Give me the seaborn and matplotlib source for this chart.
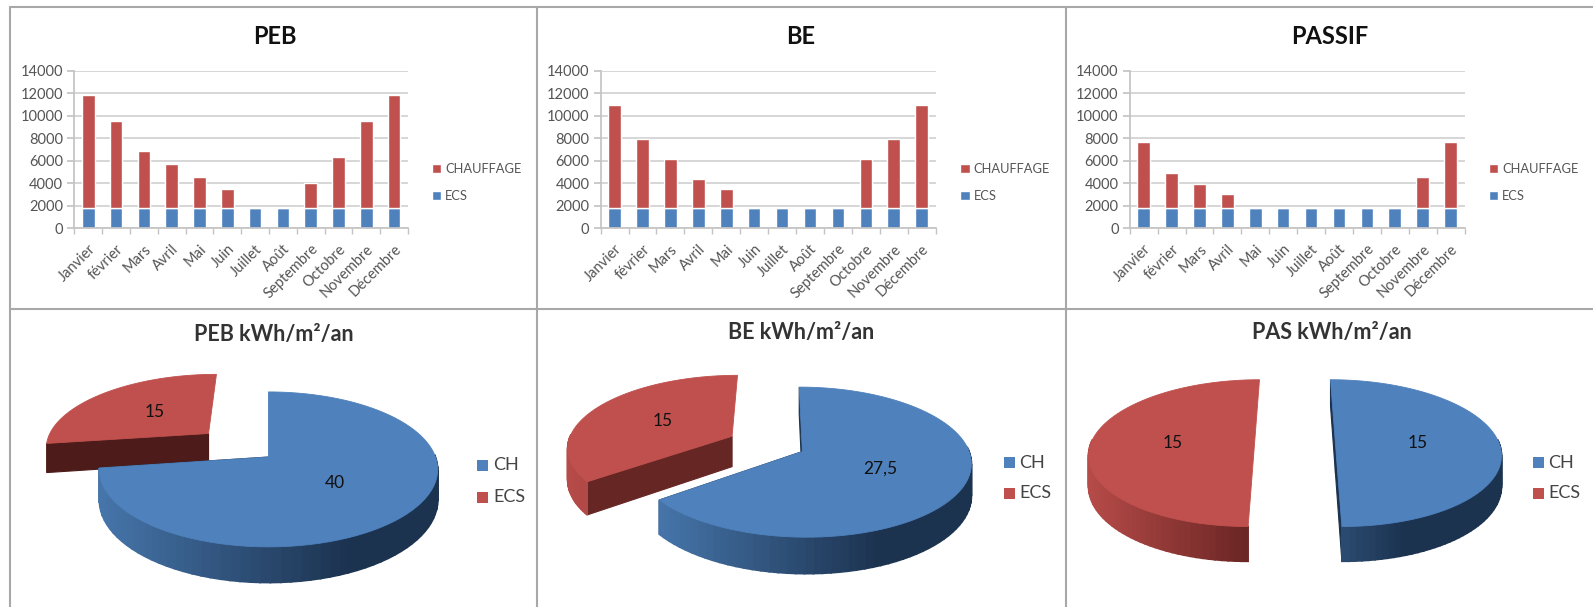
import numpy as np
import pandas as pd
import seaborn as sns
import matplotlib
matplotlib.use("Agg")
import matplotlib.pyplot as plt
from matplotlib.patches import Rectangle
from matplotlib.colors import to_rgb

sns.set_theme(style="white")
plt.rcParams["font.family"] = ["Lato", "DejaVu Sans"]

# Monthly demand, kWh
MONTHS = ["Janvier", "février", "Mars", "Avril", "Mai", "Juin", "Juillet", "Août",
          "Septembre", "Octobre", "Novembre", "Décembre"]
ECS_MONTHLY = [1780] * 12
CHAUFFAGE_PEB = [10090, 7800, 5100, 3920, 2790, 1690, 0, 0, 2250, 4510, 7800, 10090]
CHAUFFAGE_BE = [9220, 6170, 4360, 2610, 1690, 0, 0, 0, 0, 4360, 6170, 9220]
CHAUFFAGE_PASSIF = [5870, 3140, 2110, 1280, 0, 0, 0, 0, 0, 0, 2760, 5870]

# Yearly demand, kWh/m²/an
PIE_LABELS = ["CH", "ECS"]
PIE_PEB = [40, 15]
PIE_BE = [27.5, 15]
PIE_PAS = [15, 15]
PIE_TEXT_PEB = ["40", "15"]
PIE_TEXT_BE = ["27,5", "15"]
PIE_TEXT_PAS = ["15", "15"]

W, H = 1593, 607
BLUE, RED = "#4f81bd", "#c0504d"
BLUE_SHADE = ("#4675aa", "#1c3350")
RED_SHADE = ("#b64b48", "#6b2625")

fig = plt.figure(figsize=(W / 100, H / 100), dpi=100, facecolor="white")


def axes_px(left, top, right, bottom):
    return fig.add_axes([left / W, 1 - bottom / H, (right - left) / W, (bottom - top) / H])


def stacked_bars(box, title, title_x, heating, legend_x):
    ax = axes_px(*box)
    frame = pd.DataFrame({"mois": MONTHS, "ECS": ECS_MONTHLY, "CHAUFFAGE": heating})
    ax.set_axisbelow(True)
    sns.barplot(data=frame, x="mois", y="ECS", color=BLUE, saturation=1, width=0.45,
                ax=ax, label="ECS")
    sns.barplot(data=frame, x="mois", y="CHAUFFAGE", bottom=frame["ECS"], color=RED,
                saturation=1, width=0.45, ax=ax, label="CHAUFFAGE")
    ax.set_xlim(-0.5, 11.5)
    ax.set_ylim(0, 14000)
    ax.set_yticks(range(0, 14001, 2000))
    ax.set_xlabel("")
    ax.set_ylabel("")
    ax.grid(axis="y", color="#d0d0d0", lw=1.2)
    for side in ("top", "right"):
        ax.spines[side].set_visible(False)
    for side in ("left", "bottom"):
        ax.spines[side].set_color("#c4c4c4")
    ax.set_xticks(np.arange(-0.5, 12), minor=True)
    ax.tick_params(axis="x", which="minor", length=4, color="#c4c4c4", bottom=True)
    ax.tick_params(axis="x", which="major", length=0, pad=10)
    ax.tick_params(axis="y", length=5, color="#c4c4c4", left=True, pad=3)
    ax.tick_params(labelsize=10.5, labelcolor="#555555")
    plt.setp(ax.get_xticklabels(), rotation=45, ha="right", rotation_mode="anchor")
    handles, labels = ax.get_legend_handles_labels()
    ax.legend(handles[::-1], labels[::-1], loc="center left", frameon=False,
              bbox_to_anchor=(legend_x / W, 1 - 182.5 / H), bbox_transform=fig.transFigure,
              fontsize=9.3, labelcolor="#555555", handlelength=0.75, handleheight=0.75,
              handletextpad=0.3, labelspacing=1.15, borderpad=0, borderaxespad=0)
    fig.text(title_x / W, 1 - 36 / H, title, fontsize=17, fontweight="bold", color="#111111",
             ha="center", va="center")


def project(u, v, scene):
    """Perspective projection of a point of the pie plane to figure pixels."""
    cx, cy, rx, ry, k = scene
    w = 1 + k * v
    return cx + rx * u / w, cy - ry * v / w


def pie_3d(ax, values, texts, explode, scene, depth, spans, cut_red, red_wall_limit=0.02):
    fractions = np.asarray(values, float) / sum(values)
    edges = np.concatenate([[0], np.cumsum(fractions)]) * 2 * np.pi
    colours = [BLUE, RED]
    shades = [BLUE_SHADE, RED_SHADE]
    cuts = ["#1c3350", cut_red]
    limits = [0.02, red_wall_limit]
    for i in (1, 0):
        a0, a1 = edges[i], edges[i + 1]
        mid = (a0 + a1) / 2
        ou, ov = explode[i] * np.sin(mid), explode[i] * np.cos(mid)
        t = np.linspace(a0, a1, 90)
        u, v = ou + np.sin(t), ov + np.cos(t)
        x, y = project(u, v, scene)
        drop = depth / (1 + scene[4] * v)
        light, dark = map(np.array, map(to_rgb, shades[i]))
        apex_x, apex_y = project(ou, ov, scene)
        apex_drop = depth / (1 + scene[4] * ov)
        # straight cut faces; the left slice shows none along its vertical edges
        for idx, angle in ((0, a0), (-1, a1)):
            if i == 1 and abs(np.sin(angle)) < 0.01:
                continue
            ax.fill([apex_x, x[idx], x[idx], apex_x],
                    [apex_y, y[idx], y[idx] + drop[idx], apex_y + apex_drop],
                    color=cuts[i], lw=0.8, zorder=2)
        # outer wall on the side facing the viewer, shaded from left to right
        for j in range(len(t) - 1):
            if np.cos(t[j]) > limits[i] and np.cos(t[j + 1]) > limits[i]:
                continue
            f = np.clip((x[j] - spans[i][0]) / (spans[i][1] - spans[i][0]), 0, 1)
            ax.fill([x[j], x[j + 1], x[j + 1], x[j]],
                    [y[j], y[j + 1], y[j + 1] + drop[j + 1], y[j] + drop[j]],
                    color=light + (dark - light) * f, lw=1.2, zorder=2)
        # top face
        ax.fill(np.r_[apex_x, x], np.r_[apex_y, y], color=colours[i], lw=0.6, zorder=2)
        lx, ly = project(ou + 0.5 * np.sin(mid), ov + 0.5 * np.cos(mid), scene)
        ax.text(lx, ly, texts[i], fontsize=12.5, color="#111111", ha="center", va="center", zorder=3)


overlay = fig.add_axes([0, 0, 1, 1], zorder=5)
overlay.set_xlim(0, W)
overlay.set_ylim(H, 0)
overlay.axis("off")

# panel grid
for x in (10, 537, 1066):
    overlay.plot([x, x], [7, H], color="#a8a8a8", lw=1.5)
overlay.plot([10, W], [7, 7], color="#a8a8a8", lw=1.5)
overlay.plot([10, W], [309, 309], color="#a8a8a8", lw=1.5)

stacked_bars((74.4, 71, 408, 228), "PEB", 274.5, CHAUFFAGE_PEB, 431.5)
stacked_bars((600.6, 71, 935.6, 228), "BE", 801, CHAUFFAGE_BE, 960)
stacked_bars((1129.8, 71, 1464.5, 228), "PASSIF", 1330, CHAUFFAGE_PASSIF, 1488.6)

pie_3d(overlay, PIE_PEB, PIE_TEXT_PEB, (0, 0.5), (268.5, 457, 167, 75.5, 0.16), 30,
       [(103, 350), (48, 310)], "#4d1c1a", red_wall_limit=-0.2)
pie_3d(overlay, PIE_BE, PIE_TEXT_BE, (0.17, 0.31), (777, 446, 165, 72, 0.14), 31,
       [(662, 880), (568, 860)], "#652624")
pie_3d(overlay, PIE_PAS, PIE_TEXT_PAS, (0.247, 0.247), (1295, 443, 163.6, 72, 0.138), 30,
       [(1240, 1405), (1089, 1248)], "#652624")

# pie titles and legends
for x, y, title in ((274, 335, "PEB kWh/m²/an"), (801, 333, "BE kWh/m²/an"), (1332, 333, "PAS kWh/m²/an")):
    overlay.text(x, y, title, fontsize=15.5, fontweight="bold", color="#333333", ha="center", va="center")
for x, y, step in ((477, 465, 32.5), (1003.5, 462.7, 30.5), (1532.5, 462.7, 30.5)):
    for i, (name, colour) in enumerate(zip(PIE_LABELS, (BLUE, RED))):
        yy = y + i * step
        overlay.add_patch(Rectangle((x, yy - 5.5), 11, 11, color=colour, lw=0))
        overlay.text(x + 16, yy, name, fontsize=13, color="#444444", ha="left", va="center")

fig.savefig("out.png", dpi=100)
